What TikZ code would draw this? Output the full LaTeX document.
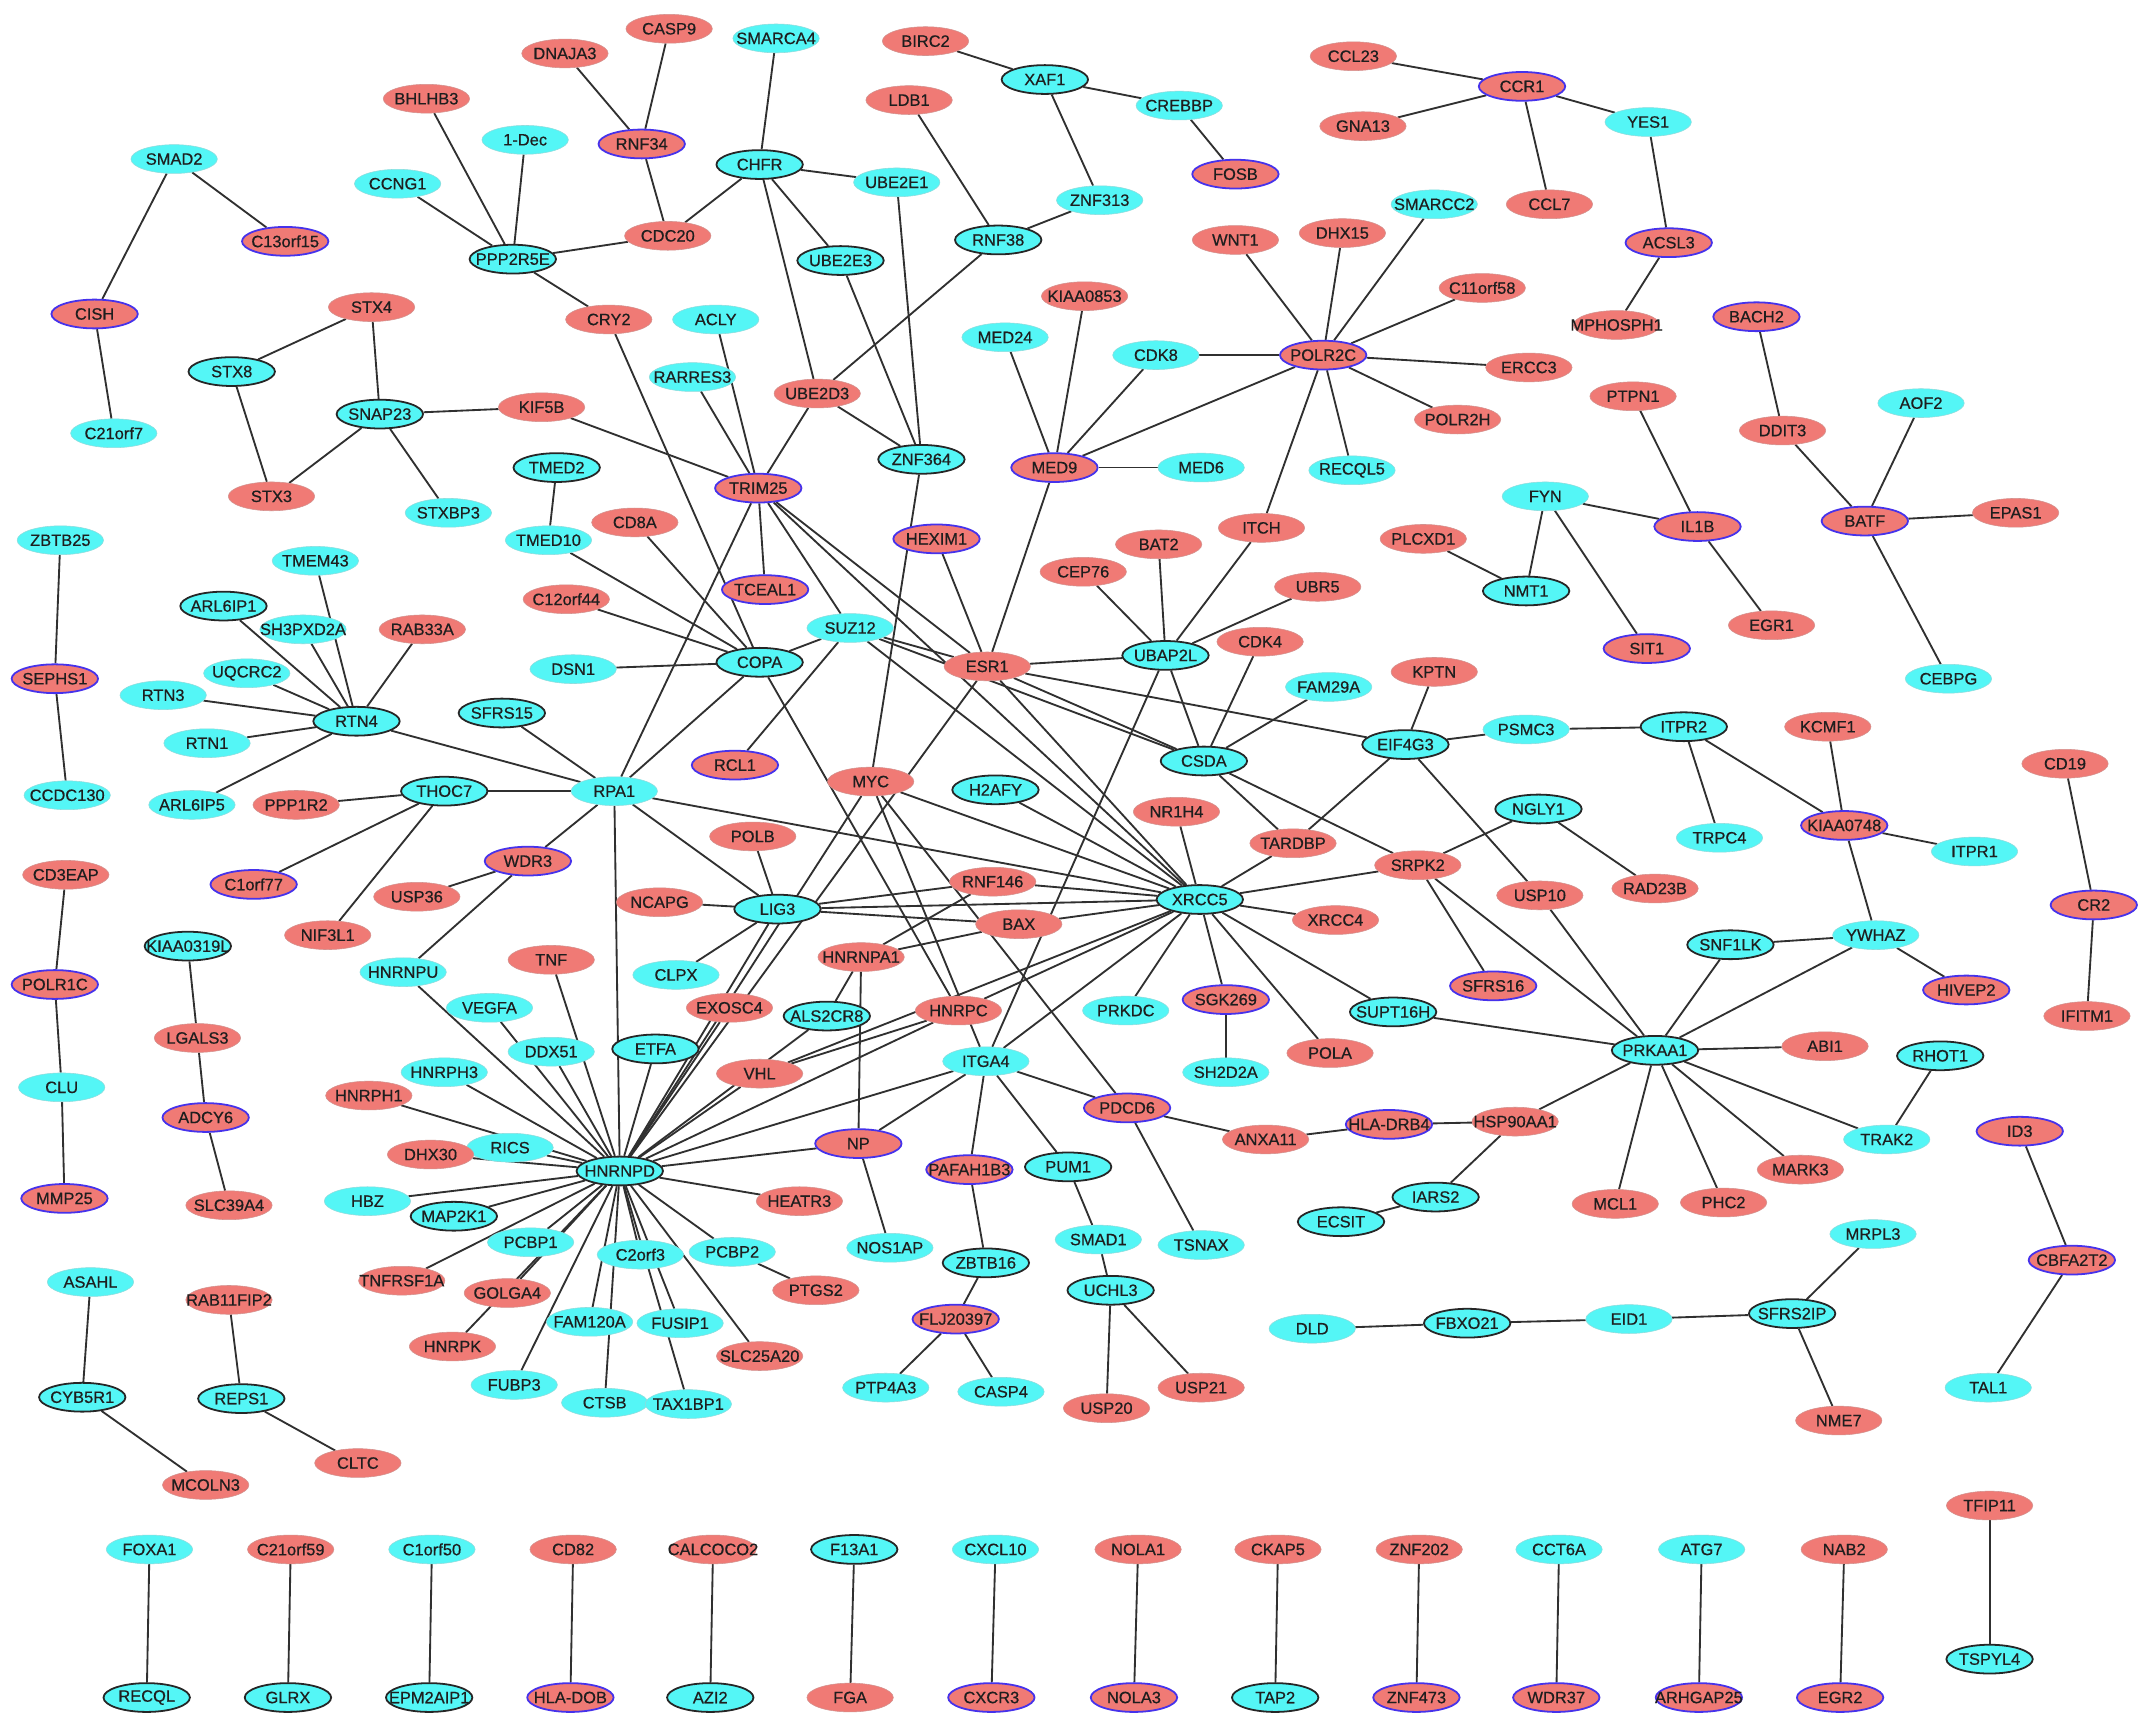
\documentclass[tikz,border=0pt]{standalone}
\usepackage{fontspec}
\setmainfont{Liberation Sans}
\newfontfamily\nodefont{Liberation Sans}[FakeBold=0.5]
\usetikzlibrary{shapes.geometric}
\pgfdeclarelayer{bg}
\pgfsetlayers{bg,main}
\definecolor{cy}{RGB}{84,246,246}
\definecolor{rd}{RGB}{240,122,117}
\definecolor{bl}{RGB}{70,50,235}
\definecolor{ed}{RGB}{48,48,48}
\definecolor{txt}{RGB}{30,30,30}
\newcommand\lb[1]{\makebox[0pt]{#1}}
\tikzset{
  nbase/.style={ellipse, minimum width=63pt, minimum height=21pt, inner sep=0pt, font=\nodefont\fontsize{12}{12}\selectfont, text=txt},
  nc/.style={nbase, fill=cy, draw=cy!80!black!60, line width=0.4pt},
  ncd/.style={nbase, fill=cy, draw=black!85, line width=1.3pt},
  nr/.style={nbase, fill=rd, draw=rd!80!black!70, line width=0.4pt},
  nrb/.style={nbase, fill=rd, draw=bl, line width=1.3pt},
  edge/.style={draw=ed, line width=1.35pt}
}
\begin{document}
\begin{tikzpicture}[x=1pt,y=-1pt]
\useasboundingbox (0,0) rectangle (1568,1260);
% ---- top area
\node[nc] (SMAD2) at (127,116) {\lb{SMAD2}};
\node[nrb] (CISH) at (69,229) {\lb{CISH}};
\node[nc] (C21orf7) at (83,316) {\lb{C21orf7}};
\node[nrb] (C13orf15) at (208,176) {\lb{C13orf15}};
\node[nr] (BHLHB3) at (311,72) {\lb{BHLHB3}};
\node[nc] (Dec1) at (383,102) {\lb{1-Dec}};
\node[nc] (CCNG1) at (290,134) {\lb{CCNG1}};
\node[ncd] (PPP2R5E) at (374,189) {\lb{PPP2R5E}};
\node[nr] (DNAJA3) at (412,39) {\lb{DNAJA3}};
\node[nr] (CASP9) at (488,21) {\lb{CASP9}};
\node[nrb] (RNF34) at (468,105) {\lb{RNF34}};
\node[nc] (SMARCA4) at (566,28) {\lb{SMARCA4}};
\node[ncd] (CHFR) at (554,120) {\lb{CHFR}};
\node[nc] (UBE2E1) at (654,133) {\lb{UBE2E1}};
\node[nr] (CDC20) at (487,172) {\lb{CDC20}};
\node[ncd] (UBE2E3) at (613,190) {\lb{UBE2E3}};
\node[nr] (CRY2) at (444,233) {\lb{CRY2}};
\node[nc] (ACLY) at (522,233) {\lb{ACLY}};
\node[nc] (RARRES3) at (505,275) {\lb{RARRES3}};
\node[nr] (UBE2D3) at (596,287) {\lb{UBE2D3}};
\node[ncd] (ZNF364) at (672,335) {\lb{ZNF364}};
\node[nrb] (TRIM25) at (553,356) {\lb{TRIM25}};
\node[ncd] (TMED2) at (406,341) {\lb{TMED2}};
\node[nc] (TMED10) at (400,394) {\lb{TMED10}};
\node[nr] (CD8A) at (463,381) {\lb{CD8A}};
\node[nrb] (HEXIM1) at (683,393) {\lb{HEXIM1}};
\node[nr] (KIF5B) at (395,297) {\lb{KIF5B}};
\node[nr] (STX4) at (271,224) {\lb{STX4}};
\node[ncd] (STX8) at (169,271) {\lb{STX8}};
\node[ncd] (SNAP23) at (277,302) {\lb{SNAP23}};
\node[nr] (STX3) at (198,362) {\lb{STX3}};
\node[nc] (STXBP3) at (327,374) {\lb{STXBP3}};
\node[nr] (BIRC2) at (675,30) {\lb{BIRC2}};
\node[ncd] (XAF1) at (762,58) {\lb{XAF1}};
\node[nr] (LDB1) at (663,73) {\lb{LDB1}};
\node[nc] (CREBBP) at (860,77) {\lb{CREBBP}};
\node[nrb] (FOSB) at (901,127) {\lb{FOSB}};
\node[nc] (ZNF313) at (802,146) {\lb{ZNF313}};
\node[ncd] (RNF38) at (728,175) {\lb{RNF38}};
\node[nr] (KIAA0853) at (791,216) {\lb{KIAA0853}};
\node[nc] (MED24) at (733,246) {\lb{MED24}};
\node[nc] (CDK8) at (843,259) {\lb{CDK8}};
\node[nrb] (MED9) at (769,341) {\lb{MED9}};
\node[nc] (MED6) at (876,341) {\lb{MED6}};
\node[nr] (WNT1) at (901,175) {\lb{WNT1}};
\node[nr] (DHX15) at (979,170) {\lb{DHX15}};
\node[nc] (SMARCC2) at (1046,149) {\lb{SMARCC2}};
\node[nr] (C11orf58) at (1081,210) {\lb{C11orf58}};
\node[nrb] (POLR2C) at (965,259) {\lb{POLR2C}};
\node[nr] (ERCC3) at (1115,268) {\lb{ERCC3}};
\node[nr] (POLR2H) at (1063,306) {\lb{POLR2H}};
\node[nc] (RECQL5) at (986,343) {\lb{RECQL5}};
\node[nr] (ITCH) at (920,385) {\lb{ITCH}};
\node[nr] (BAT2) at (845,397) {\lb{BAT2}};
\node[nr] (CEP76) at (790,417) {\lb{CEP76}};
\node[nr] (CCL23) at (987,41) {\lb{CCL23}};
\node[nrb] (CCR1) at (1110,63) {\lb{CCR1}};
\node[nr] (GNA13) at (994,92) {\lb{GNA13}};
\node[nr] (CCL7) at (1130,149) {\lb{CCL7}};
\node[nc] (YES1) at (1202,89) {\lb{YES1}};
\node[nrb] (ACSL3) at (1217,177) {\lb{ACSL3}};
\node[nr] (MPHOSPH1) at (1179,237) {\lb{MPHOSPH1}};
\node[nrb] (BACH2) at (1281,231) {\lb{BACH2}};
\node[nr] (PTPN1) at (1191,289) {\lb{PTPN1}};
\node[nr] (DDIT3) at (1300,314) {\lb{DDIT3}};
\node[nc] (AOF2) at (1401,294) {\lb{AOF2}};
\node[nrb] (BATF) at (1360,380) {\lb{BATF}};
\node[nr] (EPAS1) at (1470,374) {\lb{EPAS1}};
\node[nc] (FYN) at (1127,362) {\lb{FYN}};
\node[nrb] (IL1B) at (1238,384) {\lb{IL1B}};
\node[nr] (PLCXD1) at (1038,393) {\lb{PLCXD1}};
\node[ncd] (NMT1) at (1113,431) {\lb{NMT1}};
\node[nrb] (SIT1) at (1201,473) {\lb{SIT1}};
\node[nr] (EGR1) at (1292,456) {\lb{EGR1}};
\node[nc] (CEBPG) at (1421,495) {\lb{CEBPG}};
% ---- left middle
\node[nc] (ZBTB25) at (44,394) {\lb{ZBTB25}};
\node[nrb] (SEPHS1) at (40,495) {\lb{SEPHS1}};
\node[nc] (CCDC130) at (49,580) {\lb{CCDC130}};
\node[nc] (TMEM43) at (230,409) {\lb{TMEM43}};
\node[ncd] (ARL6IP1) at (163,442) {\lb{ARL6IP1}};
\node[nc] (SH3PXD2A) at (221,459) {\lb{SH3PXD2A}};
\node[nr] (RAB33A) at (308,459) {\lb{RAB33A}};
\node[nc] (UQCRC2) at (180,491) {\lb{UQCRC2}};
\node[nc] (RTN3) at (119,507) {\lb{RTN3}};
\node[ncd] (RTN4) at (260,526) {\lb{RTN4}};
\node[nc] (RTN1) at (151,542) {\lb{RTN1}};
\node[nc] (ARL6IP5) at (140,587) {\lb{ARL6IP5}};
\node[ncd] (SFRS15) at (366,520) {\lb{SFRS15}};
\node[nr] (PPP1R2) at (216,587) {\lb{PPP1R2}};
\node[ncd] (THOC7) at (324,577) {\lb{THOC7}};
\node[nc] (RPA1) at (448,577) {\lb{RPA1}};
\node[nr] (CD3EAP) at (48,638) {\lb{CD3EAP}};
\node[nrb] (C1orf77) at (185,645) {\lb{C1orf77}};
\node[nrb] (WDR3) at (385,628) {\lb{WDR3}};
\node[nr] (USP36) at (304,654) {\lb{USP36}};
\node[nr] (NIF3L1) at (239,682) {\lb{NIF3L1}};
\node[ncd] (KIAA0319L) at (137,690) {\lb{KIAA0319L}};
\node[nrb] (POLR1C) at (40,718) {\lb{POLR1C}};
\node[nc] (HNRNPU) at (294,709) {\lb{HNRNPU}};
\node[nr] (TNF) at (402,700) {\lb{TNF}};
\node[nc] (VEGFA) at (357,735) {\lb{VEGFA}};
\node[nr] (LGALS3) at (144,757) {\lb{LGALS3}};
\node[nc] (DDX51) at (402,767) {\lb{DDX51}};
\node[ncd] (ETFA) at (478,765) {\lb{ETFA}};
\node[nc] (HNRPH3) at (324,782) {\lb{HNRPH3}};
\node[nc] (CLU) at (45,793) {\lb{CLU}};
\node[nr] (HNRPH1) at (269,799) {\lb{HNRPH1}};
\node[nrb] (ADCY6) at (150,815) {\lb{ADCY6}};
\node[nc] (RICS) at (372,837) {\lb{RICS}};
\node[nr] (DHX30) at (314,842) {\lb{DHX30}};
\node[ncd] (HNRNPD) at (452,854) {\lb{HNRNPD}};
\node[nc] (HBZ) at (268,876) {\lb{HBZ}};
\node[ncd] (MAP2K1) at (331,887) {\lb{MAP2K1}};
\node[nrb] (MMP25) at (47,874) {\lb{MMP25}};
\node[nr] (SLC39A4) at (167,879) {\lb{SLC39A4}};
\node[nr] (HEATR3) at (583,876) {\lb{HEATR3}};
\node[nc] (PCBP1) at (387,906) {\lb{PCBP1}};
\node[nr] (TNFRSF1A) at (293,934) {\lb{TNFRSF1A}};
\node[nc] (C2orf3) at (467,915) {\lb{C2orf3}};
\node[nc] (PCBP2) at (534,913) {\lb{PCBP2}};
\node[nr] (PTGS2) at (595,941) {\lb{PTGS2}};
\node[nr] (GOLGA4) at (370,943) {\lb{GOLGA4}};
\node[nc] (ASAHL) at (66,935) {\lb{ASAHL}};
\node[nr] (RAB11FIP2) at (167,948) {\lb{RAB11FIP2}};
\node[nr] (HNRPK) at (330,982) {\lb{HNRPK}};
\node[nc] (FAM120A) at (430,964) {\lb{FAM120A}};
\node[nc] (FUSIP1) at (496,965) {\lb{FUSIP1}};
\node[nr] (SLC25A20) at (554,989) {\lb{SLC25A20}};
\node[nc] (FUBP3) at (375,1010) {\lb{FUBP3}};
\node[nc] (CTSB) at (441,1023) {\lb{CTSB}};
\node[nc] (TAX1BP1) at (502,1024) {\lb{TAX1BP1}};
\node[ncd] (CYB5R1) at (60,1019) {\lb{CYB5R1}};
\node[ncd] (REPS1) at (176,1020) {\lb{REPS1}};
\node[nr] (CLTC) at (261,1067) {\lb{CLTC}};
\node[nr] (MCOLN3) at (150,1083) {\lb{MCOLN3}};
% ---- centre
\node[nr] (C12orf44) at (413,437) {\lb{C12orf44}};
\node[nc] (DSN1) at (418,488) {\lb{DSN1}};
\node[ncd] (COPA) at (554,483) {\lb{COPA}};
\node[nc] (SUZ12) at (620,458) {\lb{SUZ12}};
\node[nrb] (TCEAL1) at (558,430) {\lb{TCEAL1}};
\node[nr] (ESR1) at (720,486) {\lb{ESR1}};
\node[nrb] (RCL1) at (536,558) {\lb{RCL1}};
\node[nr] (MYC) at (635,570) {\lb{MYC}};
\node[ncd] (H2AFY) at (726,576) {\lb{H2AFY}};
\node[nr] (POLB) at (549,610) {\lb{POLB}};
\node[nr] (NCAPG) at (481,658) {\lb{NCAPG}};
\node[ncd] (LIG3) at (567,663) {\lb{LIG3}};
\node[nr] (RNF146) at (724,643) {\lb{RNF146}};
\node[nr] (BAX) at (743,674) {\lb{BAX}};
\node[nr] (HNRNPA1) at (628,698) {\lb{HNRNPA1}};
\node[nc] (CLPX) at (493,711) {\lb{CLPX}};
\node[nr] (EXOSC4) at (532,735) {\lb{EXOSC4}};
\node[ncd] (ALS2CR8) at (603,741) {\lb{ALS2CR8}};
\node[nr] (HNRPC) at (699,737) {\lb{HNRPC}};
\node[nr] (VHL) at (554,783) {\lb{VHL}};
\node[nc] (ITGA4) at (719,774) {\lb{ITGA4}};
\node[nrb] (NP) at (626,834) {\lb{NP}};
\node[nrb] (PAFAH1B3) at (707,853) {\lb{PAFAH1B3}};
\node[ncd] (PUM1) at (779,851) {\lb{PUM1}};
\node[nc] (NOS1AP) at (649,910) {\lb{NOS1AP}};
\node[ncd] (ZBTB16) at (719,921) {\lb{ZBTB16}};
\node[nrb] (FLJ20397) at (697,962) {\lb{FLJ20397}};
\node[nc] (PTP4A3) at (646,1012) {\lb{PTP4A3}};
\node[nc] (CASP4) at (730,1015) {\lb{CASP4}};
\node[nc] (SMAD1) at (801,904) {\lb{SMAD1}};
\node[nc] (TSNAX) at (876,908) {\lb{TSNAX}};
\node[ncd] (UCHL3) at (810,941) {\lb{UCHL3}};
\node[nr] (USP20) at (807,1027) {\lb{USP20}};
\node[nr] (USP21) at (876,1012) {\lb{USP21}};
\node[nrb] (PDCD6) at (822,808) {\lb{PDCD6}};
\node[nc] (PRKDC) at (821,737) {\lb{PRKDC}};
\node[nrb] (SGK269) at (894,729) {\lb{SGK269}};
\node[nc] (SH2D2A) at (894,782) {\lb{SH2D2A}};
\node[nr] (POLA) at (970,768) {\lb{POLA}};
\node[nr] (ANXA11) at (923,831) {\lb{ANXA11}};
\node[nrb] (HLADRB4) at (1013,820) {\lb{HLA-DRB4}};
\node[nr] (HSP90AA1) at (1105,818) {\lb{HSP90AA1}};
\node[ncd] (UBAP2L) at (850,478) {\lb{UBAP2L}};
\node[nr] (UBR5) at (961,428) {\lb{UBR5}};
\node[nr] (CDK4) at (919,468) {\lb{CDK4}};
\node[ncd] (CSDA) at (878,555) {\lb{CSDA}};
\node[nc] (FAM29A) at (969,501) {\lb{FAM29A}};
\node[nr] (KPTN) at (1046,490) {\lb{KPTN}};
\node[ncd] (EIF4G3) at (1025,543) {\lb{EIF4G3}};
\node[nc] (PSMC3) at (1113,532) {\lb{PSMC3}};
\node[nr] (NR1H4) at (858,592) {\lb{NR1H4}};
\node[nr] (TARDBP) at (943,615) {\lb{TARDBP}};
\node[nr] (SRPK2) at (1034,631) {\lb{SRPK2}};
\node[ncd] (XRCC5) at (875,656) {\lb{XRCC5}};
\node[nr] (XRCC4) at (974,671) {\lb{XRCC4}};
\node[nr] (USP10) at (1123,653) {\lb{USP10}};
\node[ncd] (NGLY1) at (1122,590) {\lb{NGLY1}};
\node[nr] (RAD23B) at (1207,648) {\lb{RAD23B}};
\node[nrb] (SFRS16) at (1089,719) {\lb{SFRS16}};
\node[ncd] (SUPT16H) at (1016,738) {\lb{SUPT16H}};
\node[ncd] (ITPR2) at (1228,530) {\lb{ITPR2}};
\node[nc] (TRPC4) at (1254,611) {\lb{TRPC4}};
\node[nr] (KCMF1) at (1333,530) {\lb{KCMF1}};
\node[nrb] (KIAA0748) at (1345,602) {\lb{KIAA0748}};
\node[nc] (ITPR1) at (1440,621) {\lb{ITPR1}};
\node[nr] (CD19) at (1506,557) {\lb{CD19}};
\node[nrb] (CR2) at (1527,660) {\lb{CR2}};
\node[ncd] (SNF1LK) at (1262,689) {\lb{SNF1LK}};
\node[nc] (YWHAZ) at (1368,682) {\lb{YWHAZ}};
\node[nrb] (HIVEP2) at (1434,722) {\lb{HIVEP2}};
\node[nr] (IFITM1) at (1522,741) {\lb{IFITM1}};
\node[ncd] (PRKAA1) at (1207,766) {\lb{PRKAA1}};
\node[nr] (ABI1) at (1331,763) {\lb{ABI1}};
\node[ncd] (RHOT1) at (1415,770) {\lb{RHOT1}};
\node[nc] (TRAK2) at (1376,831) {\lb{TRAK2}};
\node[nrb] (ID3) at (1473,825) {\lb{ID3}};
\node[nr] (MARK3) at (1313,853) {\lb{MARK3}};
\node[nr] (MCL1) at (1178,878) {\lb{MCL1}};
\node[nr] (PHC2) at (1257,877) {\lb{PHC2}};
\node[ncd] (IARS2) at (1047,873) {\lb{IARS2}};
\node[ncd] (ECSIT) at (978,891) {\lb{ECSIT}};
\node[nc] (MRPL3) at (1366,900) {\lb{MRPL3}};
\node[nrb] (CBFA2T2) at (1511,919) {\lb{CBFA2T2}};
\node[nc] (DLD) at (957,969) {\lb{DLD}};
\node[ncd] (FBXO21) at (1070,965) {\lb{FBXO21}};
\node[nc] (EID1) at (1188,962) {\lb{EID1}};
\node[ncd] (SFRS2IP) at (1307,958) {\lb{SFRS2IP}};
\node[nr] (NME7) at (1341,1036) {\lb{NME7}};
\node[nc] (TAL1) at (1450,1012) {\lb{TAL1}};
\node[nr] (TFIP11) at (1451,1098) {\lb{TFIP11}};
\node[ncd] (TSPYL4) at (1451,1210) {\lb{TSPYL4}};
% ---- bottom pairs
\node[nc] (FOXA1) at (109,1130) {\lb{FOXA1}};
\node[ncd] (RECQL) at (107,1238) {\lb{RECQL}};
\node[nr] (C21orf59) at (212,1130) {\lb{C21orf59}};
\node[ncd] (GLRX) at (210,1238) {\lb{GLRX}};
\node[nc] (C1orf50) at (315,1130) {\lb{C1orf50}};
\node[ncd] (EPM2AIP1) at (313,1238) {\lb{EPM2AIP1}};
\node[nr] (CD82) at (418,1130) {\lb{CD82}};
\node[nrb] (HLADOB) at (416,1238) {\lb{HLA-DOB}};
\node[nr] (CALCOCO2) at (520,1130) {\lb{CALCOCO2}};
\node[ncd] (AZI2) at (518,1238) {\lb{AZI2}};
\node[ncd] (F13A1) at (623,1130) {\lb{F13A1}};
\node[nr] (FGA) at (620,1238) {\lb{FGA}};
\node[nc] (CXCL10) at (726,1130) {\lb{CXCL10}};
\node[nrb] (CXCR3) at (723,1238) {\lb{CXCR3}};
\node[nr] (NOLA1) at (830,1130) {\lb{NOLA1}};
\node[nrb] (NOLA3) at (827,1238) {\lb{NOLA3}};
\node[nr] (CKAP5) at (932,1130) {\lb{CKAP5}};
\node[ncd] (TAP2) at (930,1238) {\lb{TAP2}};
\node[nr] (ZNF202) at (1035,1130) {\lb{ZNF202}};
\node[nrb] (ZNF473) at (1033,1238) {\lb{ZNF473}};
\node[nc] (CCT6A) at (1137,1130) {\lb{CCT6A}};
\node[nrb] (WDR37) at (1135,1238) {\lb{WDR37}};
\node[nc] (ATG7) at (1241,1130) {\lb{ATG7}};
\node[nrb] (ARHGAP25) at (1239,1238) {\lb{ARHGAP25}};
\node[nr] (NAB2) at (1345,1130) {\lb{NAB2}};
\node[nrb] (EGR2) at (1342,1238) {\lb{EGR2}};
\begin{pgfonlayer}{bg}
\fill[white] (0,0) rectangle (1568,1260);
\foreach \a/\b in {SMAD2/CISH, SMAD2/C13orf15, CISH/C21orf7,
 STX4/STX8, STX4/SNAP23, STX8/STX3, SNAP23/STX3, SNAP23/STXBP3, SNAP23/KIF5B, KIF5B/TRIM25,
 PPP2R5E/BHLHB3, PPP2R5E/Dec1, PPP2R5E/CCNG1, PPP2R5E/CDC20, PPP2R5E/CRY2,
 RNF34/DNAJA3, RNF34/CASP9, RNF34/CDC20, CDC20/CHFR,
 CHFR/SMARCA4, CHFR/UBE2E1, CHFR/UBE2E3, CHFR/UBE2D3,
 UBE2E3/ZNF364, UBE2E1/ZNF364, UBE2D3/ZNF364, UBE2D3/TRIM25, UBE2D3/RNF38,
 RNF38/LDB1, RNF38/ZNF313, ZNF313/XAF1, XAF1/BIRC2, XAF1/CREBBP, CREBBP/FOSB,
 CRY2/COPA, ACLY/TRIM25, RARRES3/TRIM25, TMED2/TMED10, TMED10/COPA, CD8A/COPA, C12orf44/COPA, DSN1/COPA,
 TRIM25/TCEAL1, TRIM25/RPA1, TRIM25/SUZ12, TRIM25/ESR1, TRIM25/XRCC5,
 ZNF364/MYC, HEXIM1/ESR1, MED24/MED9, KIAA0853/MED9, CDK8/MED9, MED9/MED6, MED9/ESR1, MED9/POLR2C,
 POLR2C/CDK8, POLR2C/WNT1, POLR2C/DHX15, POLR2C/SMARCC2, POLR2C/C11orf58, POLR2C/ERCC3, POLR2C/POLR2H, POLR2C/RECQL5, POLR2C/ITCH,
 ITCH/UBAP2L, BAT2/UBAP2L, CEP76/UBAP2L, UBR5/UBAP2L, UBAP2L/ESR1, UBAP2L/CSDA, UBAP2L/ITGA4,
 CCL23/CCR1, GNA13/CCR1, CCR1/CCL7, CCR1/YES1, YES1/ACSL3, ACSL3/MPHOSPH1,
 BACH2/DDIT3, DDIT3/BATF, AOF2/BATF, BATF/EPAS1, BATF/CEBPG,
 PTPN1/IL1B, IL1B/EGR1, FYN/IL1B, FYN/NMT1, FYN/SIT1, PLCXD1/NMT1,
 ZBTB25/SEPHS1, SEPHS1/CCDC130,
 RTN4/TMEM43, RTN4/ARL6IP1, RTN4/SH3PXD2A, RTN4/RAB33A, RTN4/UQCRC2, RTN4/RTN3, RTN4/RTN1, RTN4/ARL6IP5, RTN4/RPA1,
 SFRS15/RPA1, THOC7/PPP1R2, THOC7/C1orf77, THOC7/NIF3L1, THOC7/RPA1,
 WDR3/RPA1, WDR3/USP36, WDR3/HNRNPU,
 CD3EAP/POLR1C, POLR1C/CLU, CLU/MMP25, KIAA0319L/LGALS3, LGALS3/ADCY6, ADCY6/SLC39A4,
 HNRNPD/HNRNPU, HNRNPD/VEGFA, HNRNPD/DDX51, HNRNPD/ETFA, HNRNPD/HNRPH3, HNRNPD/HNRPH1, HNRNPD/RICS, HNRNPD/DHX30,
 HNRNPD/HBZ, HNRNPD/MAP2K1, HNRNPD/PCBP1, HNRNPD/TNFRSF1A, HNRNPD/GOLGA4, HNRNPD/HNRPK, HNRNPD/FUBP3, HNRNPD/FAM120A,
 HNRNPD/CTSB, HNRNPD/C2orf3, HNRNPD/FUSIP1, HNRNPD/TAX1BP1, HNRNPD/SLC25A20, HNRNPD/PCBP2, HNRNPD/HEATR3, HNRNPD/TNF,
 HNRNPD/RPA1, HNRNPD/LIG3, HNRNPD/MYC, HNRNPD/ESR1, HNRNPD/EXOSC4, HNRNPD/ALS2CR8, HNRNPD/VHL, HNRNPD/HNRPC,
 HNRNPD/ITGA4, HNRNPD/NP,
 PCBP2/PTGS2, ASAHL/CYB5R1, CYB5R1/MCOLN3, RAB11FIP2/REPS1, REPS1/CLTC,
 COPA/SUZ12, COPA/RPA1, COPA/HNRPC,
 SUZ12/RCL1, SUZ12/ESR1, SUZ12/XRCC5, SUZ12/CSDA,
 ESR1/CSDA, ESR1/EIF4G3, ESR1/XRCC5,
 RPA1/LIG3, RPA1/XRCC5,
 LIG3/NCAPG, LIG3/POLB, LIG3/CLPX, LIG3/RNF146, LIG3/XRCC5, LIG3/BAX,
 MYC/XRCC5, MYC/ITGA4, MYC/PDCD6, H2AFY/XRCC5,
 RNF146/XRCC5, RNF146/HNRNPA1, BAX/XRCC5, BAX/HNRNPA1,
 HNRNPA1/NP, HNRNPA1/ALS2CR8,
 HNRPC/VHL, HNRPC/XRCC5, VHL/XRCC5,
 ITGA4/XRCC5, ITGA4/PUM1, ITGA4/PAFAH1B3, ITGA4/PDCD6, ITGA4/NP,
 PUM1/SMAD1, SMAD1/UCHL3, UCHL3/USP20, UCHL3/USP21,
 PAFAH1B3/ZBTB16, ZBTB16/FLJ20397, FLJ20397/PTP4A3, FLJ20397/CASP4, NP/NOS1AP,
 PDCD6/ANXA11, PDCD6/TSNAX, ANXA11/HLADRB4, HLADRB4/HSP90AA1, HSP90AA1/PRKAA1, HSP90AA1/IARS2, IARS2/ECSIT,
 XRCC5/PRKDC, XRCC5/SGK269, XRCC5/POLA, XRCC5/SUPT16H, XRCC5/XRCC4, XRCC5/SRPK2, XRCC5/TARDBP, XRCC5/NR1H4,
 SGK269/SH2D2A,
 CSDA/CDK4, CSDA/FAM29A, CSDA/TARDBP, CSDA/SRPK2,
 EIF4G3/KPTN, EIF4G3/PSMC3, EIF4G3/TARDBP, EIF4G3/USP10, PSMC3/ITPR2,
 SRPK2/NGLY1, SRPK2/SFRS16, SRPK2/PRKAA1, NGLY1/RAD23B, USP10/PRKAA1, SUPT16H/PRKAA1,
 ITPR2/TRPC4, ITPR2/KIAA0748, KCMF1/KIAA0748, KIAA0748/ITPR1, KIAA0748/YWHAZ,
 CD19/CR2, CR2/IFITM1, YWHAZ/SNF1LK, YWHAZ/HIVEP2, YWHAZ/PRKAA1, SNF1LK/PRKAA1,
 PRKAA1/ABI1, PRKAA1/TRAK2, RHOT1/TRAK2, PRKAA1/MCL1, PRKAA1/PHC2, PRKAA1/MARK3,
 ID3/CBFA2T2, CBFA2T2/TAL1,
 DLD/FBXO21, FBXO21/EID1, EID1/SFRS2IP, SFRS2IP/MRPL3, SFRS2IP/NME7,
 TFIP11/TSPYL4, FOXA1/RECQL, C21orf59/GLRX, C1orf50/EPM2AIP1, CD82/HLADOB, CALCOCO2/AZI2, F13A1/FGA,
 CXCL10/CXCR3, NOLA1/NOLA3, CKAP5/TAP2, ZNF202/ZNF473, CCT6A/WDR37, ATG7/ARHGAP25, NAB2/EGR2}
 \draw[edge] (\a) -- (\b);
\end{pgfonlayer}
\end{tikzpicture}
\end{document}
